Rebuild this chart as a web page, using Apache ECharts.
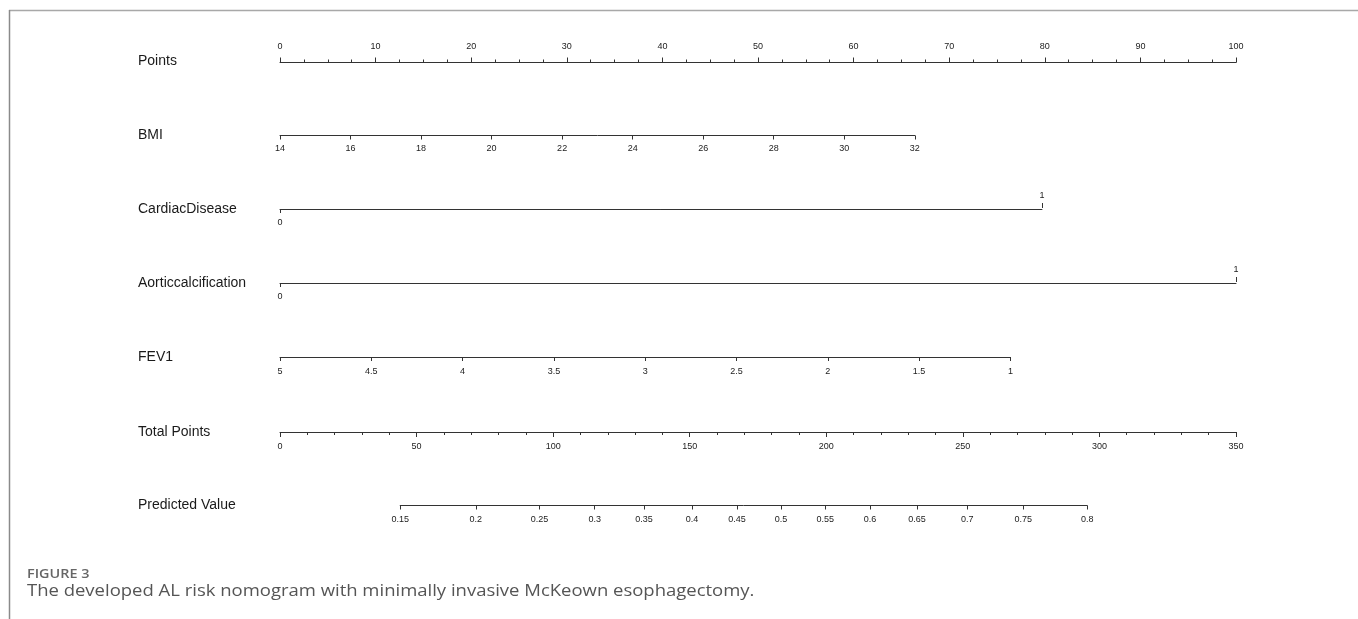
<!DOCTYPE html>
<html><head><meta charset="utf-8">
<script src="https://cdn.jsdelivr.net/npm/echarts@6/dist/echarts.min.js"></script>
<style>html,body{margin:0;padding:0;background:#fff}#c{width:1358px;height:619px}</style>
</head><body><div id="c"></div><script>
// ---- data ----
const rowNames = ['Points', 'BMI', 'CardiacDisease', 'Aorticcalcification', 'FEV1', 'Total Points', 'Predicted Value'];
const pointsTicks = [0, 10, 20, 30, 40, 50, 60, 70, 80, 90, 100];
const bmiTicks = [14, 16, 18, 20, 22, 24, 26, 28, 30, 32];
const bmiPointsRange = [0, 66.4];          // points at BMI 14 and BMI 32
const cardiacLevels = [0, 1];
const cardiacPoints = [0, 79.7];
const aorticLevels = [0, 1];
const aorticPoints = [0, 100];
const fev1Ticks = [5, 4.5, 4, 3.5, 3, 2.5, 2, 1.5, 1];
const fev1PointsRange = [0, 76.4];         // points at FEV1 5 and FEV1 1
const totalTicks = [0, 50, 100, 150, 200, 250, 300, 350];
const predTicks = [0.15, 0.2, 0.25, 0.3, 0.35, 0.4, 0.45, 0.5, 0.55, 0.6, 0.65, 0.7, 0.75, 0.8];
const predTotalPoints = [44.0, 71.7, 95.0, 115.2, 133.3, 150.8, 167.3, 183.4, 199.6, 216.0, 233.2, 251.6, 272.1, 295.5];
const captionTitle = 'FIGURE 3';
const captionText = 'The developed AL risk nomogram with minimally invasive McKeown esophagectomy.';

// ---- layout ----
const L = 280, R = 1236;
const rowY = [61.5, 135.5, 209, 283, 357, 432, 505.5];
const totMax = totalTicks[totalTicks.length - 1];
const pxPts = p => L + p / 100 * (R - L);
const pxTot = t => L + t / totMax * (R - L);
const FONT = '"Liberation Sans", Arial, sans-serif';
const lineCol = '#333';
const lab = (extra) => Object.assign({ color: '#222', fontSize: 9, fontFamily: FONT, margin: 10 }, extra || {});

function gridAt(x0, x1, y) {
  return { left: x0, width: x1 - x0, top: y - 1, height: 1, outerBoundsMode: 'none', containLabel: false };
}

const grids = [
  gridAt(pxPts(pointsTicks[0]), pxPts(pointsTicks[pointsTicks.length - 1]), rowY[0] + 1),
  gridAt(pxPts(bmiPointsRange[0]), pxPts(bmiPointsRange[1]), rowY[1]),
  gridAt(pxPts(cardiacPoints[0]), pxPts(cardiacPoints[1]), rowY[2]),
  gridAt(pxPts(aorticPoints[0]), pxPts(aorticPoints[1]), rowY[3]),
  gridAt(pxPts(fev1PointsRange[0]), pxPts(fev1PointsRange[1]), rowY[4]),
  gridAt(pxTot(totalTicks[0]), pxTot(totMax), rowY[5]),
  gridAt(pxTot(predTotalPoints[0]), pxTot(predTotalPoints[predTotalPoints.length - 1]), rowY[6])
];

const baseAxis = (gi, extra) => Object.assign({
  gridIndex: gi, type: 'value', position: 'bottom',
  axisLine: { show: true, lineStyle: { color: lineCol, width: 1 } },
  axisTick: { show: true, length: 4, lineStyle: { color: lineCol, width: 1 } },
  splitLine: { show: false },
  axisLabel: lab()
}, extra);

const xAxes = [
  baseAxis(0, {
    position: 'top', min: pointsTicks[0], max: pointsTicks[pointsTicks.length - 1], interval: 10,
    axisTick: { show: true, length: 5, customValues: pointsTicks, lineStyle: { color: lineCol } },
    minorTick: { show: true, splitNumber: 4, length: 3, lineStyle: { color: lineCol } },
    axisLabel: lab({ customValues: pointsTicks })
  }),
  baseAxis(1, {
    min: bmiTicks[0], max: bmiTicks[bmiTicks.length - 1], interval: 2,
    axisTick: { show: true, length: 4, customValues: bmiTicks, lineStyle: { color: lineCol } },
    axisLabel: lab({ customValues: bmiTicks, margin: 9 })
  }),
  baseAxis(2, {
    min: cardiacLevels[0], max: cardiacLevels[1],
    axisTick: { show: true, length: 4, customValues: [cardiacLevels[0]], lineStyle: { color: lineCol } },
    axisLabel: lab({ customValues: [cardiacLevels[0]], margin: 9 })
  }),
  baseAxis(2, {
    position: 'top', min: cardiacLevels[0], max: cardiacLevels[1],
    axisLine: { show: false },
    axisTick: { show: true, length: 5, customValues: [cardiacLevels[1]], lineStyle: { color: lineCol } },
    axisLabel: lab({ customValues: [cardiacLevels[1]], margin: 8 })
  }),
  baseAxis(3, {
    min: aorticLevels[0], max: aorticLevels[1],
    axisTick: { show: true, length: 4, customValues: [aorticLevels[0]], lineStyle: { color: lineCol } },
    axisLabel: lab({ customValues: [aorticLevels[0]], margin: 9 })
  }),
  baseAxis(3, {
    position: 'top', min: aorticLevels[0], max: aorticLevels[1],
    axisLine: { show: false },
    axisTick: { show: true, length: 5, customValues: [aorticLevels[1]], lineStyle: { color: lineCol } },
    axisLabel: lab({ customValues: [aorticLevels[1]], margin: 8 })
  }),
  baseAxis(4, {
    inverse: true, min: fev1Ticks[fev1Ticks.length - 1], max: fev1Ticks[0], interval: 0.5,
    axisTick: { show: true, length: 4, customValues: fev1Ticks, lineStyle: { color: lineCol } },
    axisLabel: lab({ customValues: fev1Ticks })
  }),
  baseAxis(5, {
    min: totalTicks[0], max: totMax, interval: 50,
    axisTick: { show: true, length: 5, customValues: totalTicks, lineStyle: { color: lineCol } },
    minorTick: { show: true, splitNumber: 5, length: 3, lineStyle: { color: lineCol } },
    axisLabel: lab({ customValues: totalTicks })
  }),
  baseAxis(6, {
    min: predTotalPoints[0], max: predTotalPoints[predTotalPoints.length - 1],
    axisTick: { show: true, length: 4, customValues: predTotalPoints, lineStyle: { color: lineCol } },
    axisLabel: lab({
      customValues: predTotalPoints,
      formatter: function (v) {
        let best = 0, d = Infinity;
        predTotalPoints.forEach((p, i) => { const dd = Math.abs(p - v); if (dd < d) { d = dd; best = i; } });
        return String(predTicks[best]);
      }
    })
  })
];

const yAxes = grids.map((g, i) => ({ gridIndex: i, type: 'value', show: false, min: 0, max: 1 }));

const graphics = [];
rowNames.forEach((n, i) => {
  graphics.push({
    type: 'text', left: 138, top: rowY[i] + 1 - 8,
    style: { text: n, fill: '#1a1a1a', font: '14px ' + FONT, verticalAlign: 'top' }
  });
});
graphics.push({ type: 'line', shape: { x1: 9, y1: 10.5, x2: 1358, y2: 10.5 }, style: { stroke: '#a8a8a8', lineWidth: 1.5 } });
graphics.push({ type: 'line', shape: { x1: 9.5, y1: 10, x2: 9.5, y2: 619 }, style: { stroke: '#8a8a8a', lineWidth: 1.5 } });
graphics.push({ type: 'text', x: 27, y: 575, scaleX: 1.2, originX: 0,
  style: { x: 0, y: 0, text: captionTitle, fill: '#666', font: '600 12px "Open Sans", sans-serif', verticalAlign: 'middle' } });
graphics.push({ type: 'text', x: 27, y: 591, scaleX: 1.155, originX: 0,
  style: { x: 0, y: 0, text: captionText, fill: '#555', font: '16px "Open Sans", sans-serif', verticalAlign: 'middle' } });

const chart = echarts.init(document.getElementById('c'), null, { renderer: 'canvas' });
chart.setOption({
  animation: false,
  backgroundColor: '#fff',
  grid: grids,
  xAxis: xAxes,
  yAxis: yAxes,
  series: [],
  graphic: graphics
});
</script></body></html>
